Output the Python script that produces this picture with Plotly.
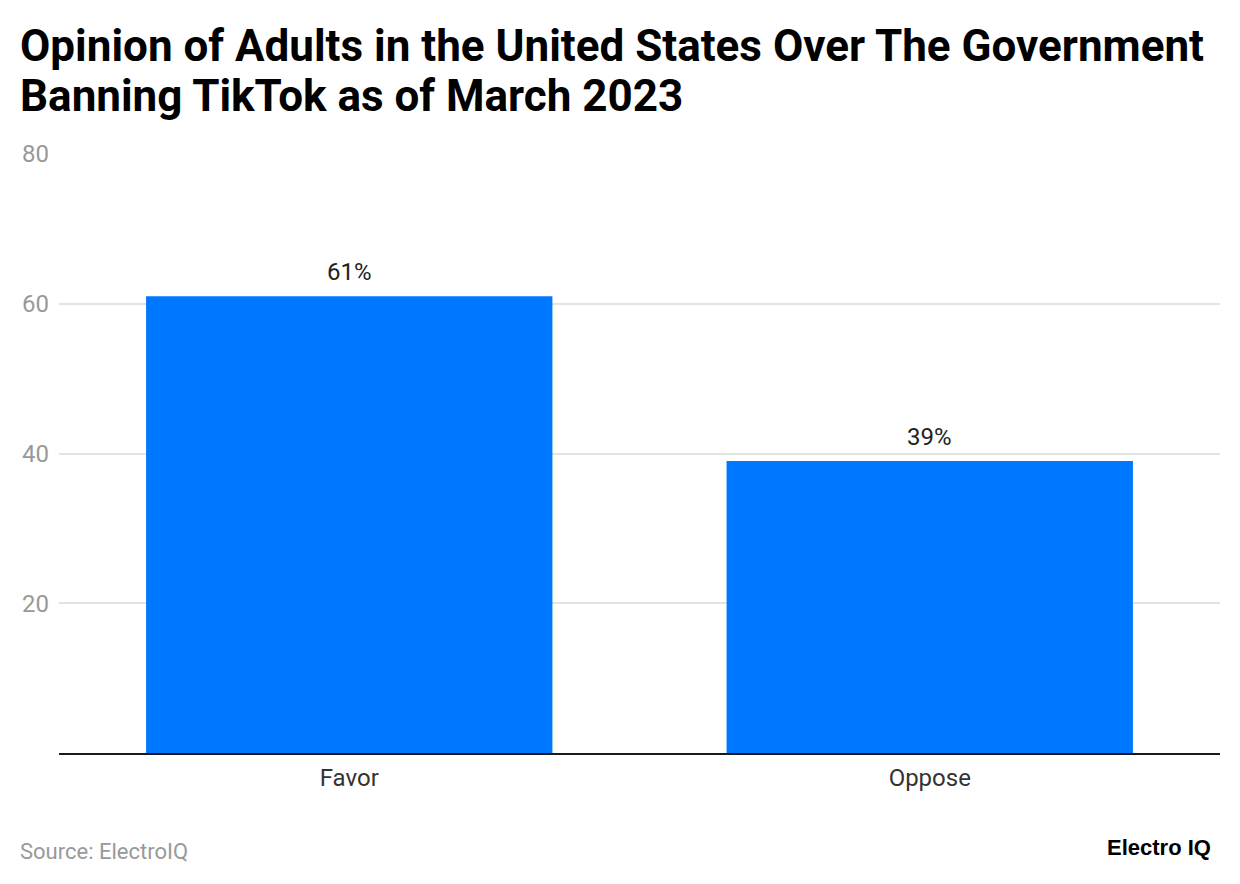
import plotly.graph_objects as go

categories = ["Favor", "Oppose"]
values = [61, 39]
labels = ["61%", "39%"]
ytick_vals = [20, 40, 60, 80]
ytick_text = ["20", "40", "60", "80"]
title_lines = [
    "Opinion of Adults in the United States Over The Government",
    "Banning TikTok as of March 2023",
]
source_text = "Source: ElectroIQ"
brand_text = "Electro IQ"

# The page body adds an 8px margin, so the figure is sized to fit the window.
W, H = 1224, 868
L, R, T, B = 51, 12, 146, 123
PW, PH = W - L - R, H - T - B


def px(x):  # page x (reference pixels) -> paper
    return (x - 8 - L) / PW


def py(y):  # page y (reference pixels) -> paper
    return (H - B - (y - 8)) / PH


fig = go.Figure()
fig.add_trace(go.Bar(
    x=categories, y=values,
    marker_color="#0077ff", marker_line_width=0,
    hoverinfo="x+y",
))

for c, v, t in zip(categories, values, labels):
    fig.add_annotation(
        x=c, y=v, xref="x", yref="y", text=t, showarrow=False,
        yanchor="middle", yshift=24,
        font=dict(family="Roboto", size=24, color="#222222"),
    )

for i, line in enumerate(title_lines):
    fig.add_annotation(
        x=px(18), y=py([46, 96][i]), xref="paper", yref="paper",
        text="<b>" + line + "</b>", showarrow=False,
        xanchor="left", yanchor="middle",
        font=dict(family="Roboto", size=44, color="#000000"),
    )

fig.add_annotation(
    x=px(18), y=py(851), xref="paper", yref="paper", text=source_text,
    showarrow=False, xanchor="left", yanchor="middle",
    font=dict(family="Roboto", size=22, color="#999999"),
)
fig.add_annotation(
    x=px(1213), y=py(847), xref="paper", yref="paper",
    text="<b>" + brand_text + "</b>",
    showarrow=False, xanchor="right", yanchor="middle",
    font=dict(family="Liberation Sans", size=22, color="#000000"),
)

fig.update_layout(
    width=W, height=H,
    paper_bgcolor="white", plot_bgcolor="white",
    margin=dict(l=L, r=R, t=T, b=B, autoexpand=False),
    bargap=0.3,
    showlegend=False,
    font=dict(family="Roboto"),
)

fig.update_yaxes(
    range=[0, 80], tickvals=ytick_vals, ticktext=ytick_text,
    showgrid=True, gridcolor="#e3e3e3", gridwidth=2,
    zeroline=False, showline=False, ticks="",
    tickfont=dict(family="Roboto", size=24, color="#999999"),
    ticklabelstandoff=9,
)
fig.update_xaxes(
    showline=True, linecolor="#1a1a1a", linewidth=2,
    ticks="", tickfont=dict(family="Roboto", size=24, color="#333333"),
    ticklabelstandoff=2,
)

fig.write_html("out.html")
